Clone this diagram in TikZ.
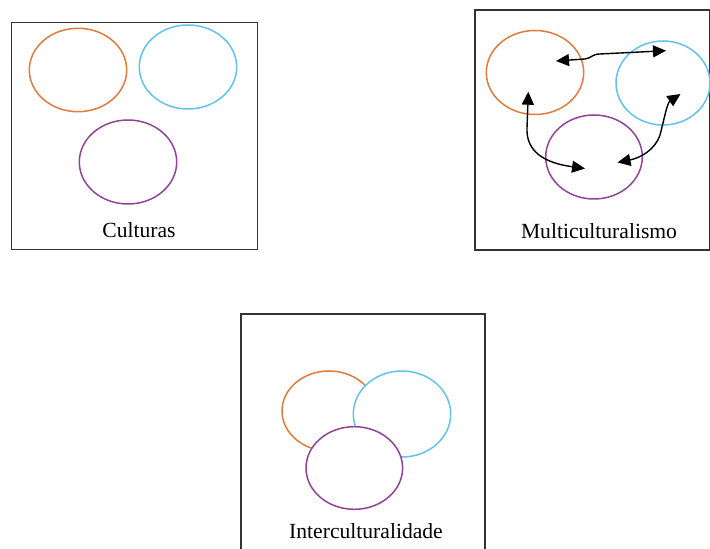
\documentclass[tikz,border=0pt]{standalone}
\usepackage{fontspec}
\setmainfont{Liberation Serif}
\usetikzlibrary{shapes.geometric,arrows.meta}
\definecolor{corange}{HTML}{E07B3C}
\definecolor{cblue}{HTML}{62C3EA}
\definecolor{cpurple}{HTML}{8E4597}
\definecolor{cframe}{HTML}{333333}
\begin{document}
\begin{tikzpicture}[x=0.5pt,y=-0.5pt,
  frame/.style={draw=cframe, line width=0.65pt, rectangle, inner sep=0pt},
  cult/.style={ellipse, line width=0.75pt, inner sep=0pt, fill=white},
  lbl/.style={font=\fontsize{10.8}{13}\selectfont, inner sep=0pt},
  dbl/.style={{Triangle[length=6.5pt,width=6pt]}-{Triangle[length=6.5pt,width=6pt]}, line width=0.7pt, black}]
\useasboundingbox (0,0) rectangle (710,549);

% ---- Box 1: Culturas
\node[frame, minimum width=123pt, minimum height=113.5pt] (box1) at (134.7,135.8) {};
\node[cult, draw=corange, minimum width=48.7pt, minimum height=41.7pt] (c1o) at (78,70) {};
\node[cult, draw=cblue, minimum width=48.7pt, minimum height=42pt] (c1b) at (188,67) {};
\node[cult, draw=cpurple, minimum width=48.7pt, minimum height=42pt] (c1p) at (128,162) {};
\node[lbl] (t1) at (139,230) {Culturas};

% ---- Box 2: Multiculturalismo
\node[frame, minimum width=117.25pt, minimum height=120pt] (box2) at (592.25,130) {};
\node[cult, draw=corange, minimum width=48.7pt, minimum height=42pt] (m1o) at (535,72.5) {};
\node[cult, draw=cblue, minimum width=47pt, minimum height=42pt] (m1b) at (663,83) {};
\node[cult, draw=cpurple, minimum width=48.3pt, minimum height=42pt] (m1p) at (594,157) {};
\node[lbl] (t2) at (599,231) {Multiculturalismo};

\coordinate (ao1) at (556,61);
\coordinate (ab1) at (666,50.7);
\coordinate (ao2) at (528.3,91.7);
\coordinate (ap2) at (585,168.5);
\coordinate (ap3) at (617.5,162.5);
\coordinate (ab3) at (680.5,94);

\draw[dbl] (ao1) -- (585,59) .. controls (592,58) and (592,54) .. (600,54) -- (ab1);
\draw[dbl] (ao2) -- (527,128) .. controls (526,152) and (545,163) .. (ap2);
\draw[dbl] (ap3) .. controls (640,158) and (655,150) .. (660,135)
                 .. controls (664,120) and (667,103) .. (ab3);

% ---- Box 3: Interculturalidade
\draw[draw=cframe, line width=0.65pt] (241,560) -- (241,314) -- (485,314) -- (485,560);
\node[cult, draw=corange, minimum width=47pt, minimum height=40pt] (i1o) at (329,411) {};
\node[cult, draw=cblue, minimum width=48.7pt, minimum height=43pt] (i1b) at (402,414) {};
\node[cult, draw=cpurple, minimum width=48.3pt, minimum height=41.3pt] (i1p) at (354.3,468) {};
\node[lbl] (t3) at (366,531.5) {Interculturalidade};
\end{tikzpicture}
\end{document}
